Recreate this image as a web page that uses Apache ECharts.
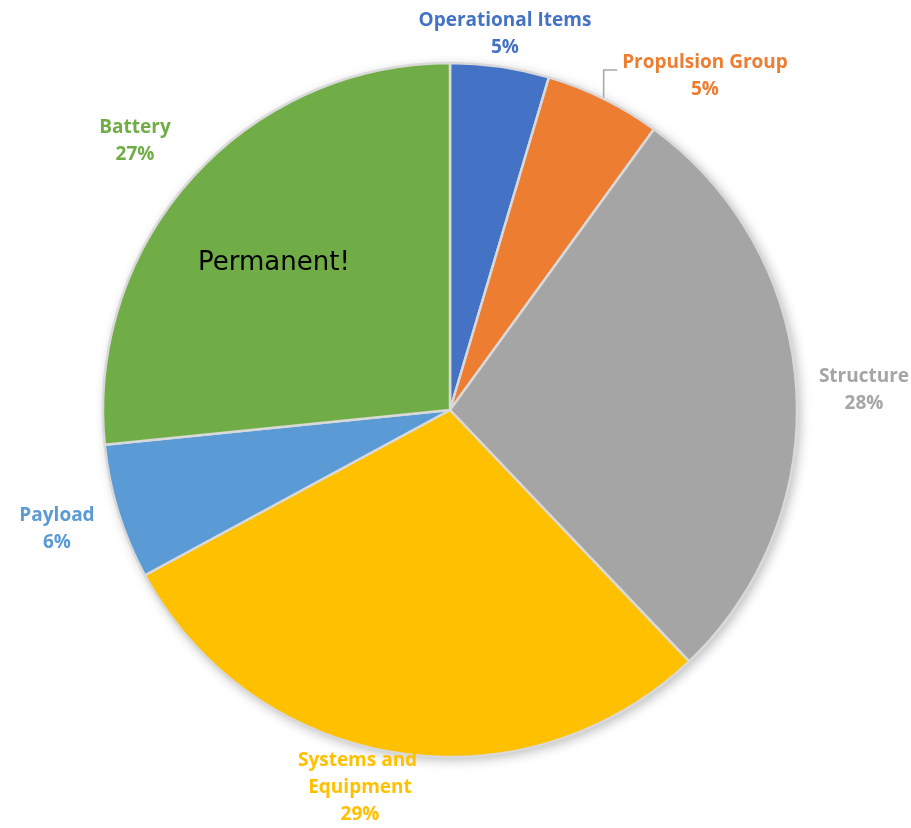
<!DOCTYPE html>
<html>
<head>
<meta charset="utf-8">
<title>Mass breakdown</title>
<script src="https://cdn.jsdelivr.net/npm/echarts@6/dist/echarts.min.js"></script>
<style>
  html, body { margin: 0; padding: 0; background: #ffffff; }
  #chart { width: 911px; height: 828px; }
</style>
</head>
<body>
<div id="chart"></div>
<script>
// Mass share per subsystem (percent of total)
const categories = ['Operational Items', 'Propulsion Group', 'Structure', 'Systems and Equipment', 'Payload', 'Battery'];
const shares = [4.6, 5.4, 27.9, 29.2, 6.3, 26.6];
const sliceColors = ['#4472C4', '#ED7D31', '#A5A5A5', '#FFC000', '#5B9BD5', '#70AD47'];

// Where each label block is centred
const labelCenters = [[505, 34], [705, 76], [864, 390], [360, 788], [57, 529], [135, 141]];

const chart = echarts.init(document.getElementById('chart'), null, { renderer: 'canvas' });

const pieData = categories.map((name, i) => {
  const item = {
    name: name,
    value: shares[i],
    itemStyle: { color: sliceColors[i] },
    label: { color: sliceColors[i] },
    labelLine: { show: i === 1 }
  };
  if (name === 'Systems and Equipment') {
    item.label.width = 150;
    item.label.overflow = 'break';
  }
  return item;
});

chart.setOption({
  backgroundColor: '#ffffff',
  animation: false,
  series: [
    {
      // soft drop shadow behind the whole disc
      type: 'pie',
      silent: true,
      center: [450, 410],
      radius: 347,
      z: 1,
      label: { show: false },
      labelLine: { show: false },
      itemStyle: {
        color: '#ffffff',
        shadowBlur: 12,
        shadowOffsetX: 3,
        shadowOffsetY: 3,
        shadowColor: 'rgba(0,0,0,0.28)'
      },
      data: [{ value: 1 }]
    },
    {
      type: 'pie',
      center: [450, 410],
      radius: 347,
      startAngle: 90,
      clockwise: true,
      z: 2,
      percentPrecision: 0,
      itemStyle: { borderColor: '#d9d9d9', borderWidth: 2.5 },
      label: {
        show: true,
        position: 'outside',
        formatter: '{b}\n{d}%',
        fontFamily: 'Open Sans',
        fontWeight: 'bold',
        fontSize: 19,
        lineHeight: 27,
        align: 'center',
        overflow: 'none'
      },
      labelLine: {
        length: 10,
        length2: 10,
        lineStyle: { color: '#a6a6a6', width: 1.5 }
      },
      labelLayout: function (params) {
        const c = labelCenters[params.dataIndex];
        const out = { x: c[0], y: c[1], align: 'center', verticalAlign: 'middle' };
        const pts = params.labelLinePoints;
        if (pts && pts.length) {
          // elbow leader: up from the slice edge, then across to the label
          const start = pts[0];
          const left = c[0] - params.labelRect.width / 2 - 5;
          out.labelLinePoints = [[start[0], start[1]], [start[0], c[1] - 6], [left, c[1] - 6]];
        }
        return out;
      },
      data: pieData
    }
  ],
  graphic: [
    {
      type: 'text',
      left: 198,
      top: 250,
      z: 10,
      style: {
        text: 'Permanent!',
        fontFamily: 'DejaVu Sans',
        fontSize: 26,
        fill: '#000000'
      }
    }
  ]
});
</script>
</body>
</html>
